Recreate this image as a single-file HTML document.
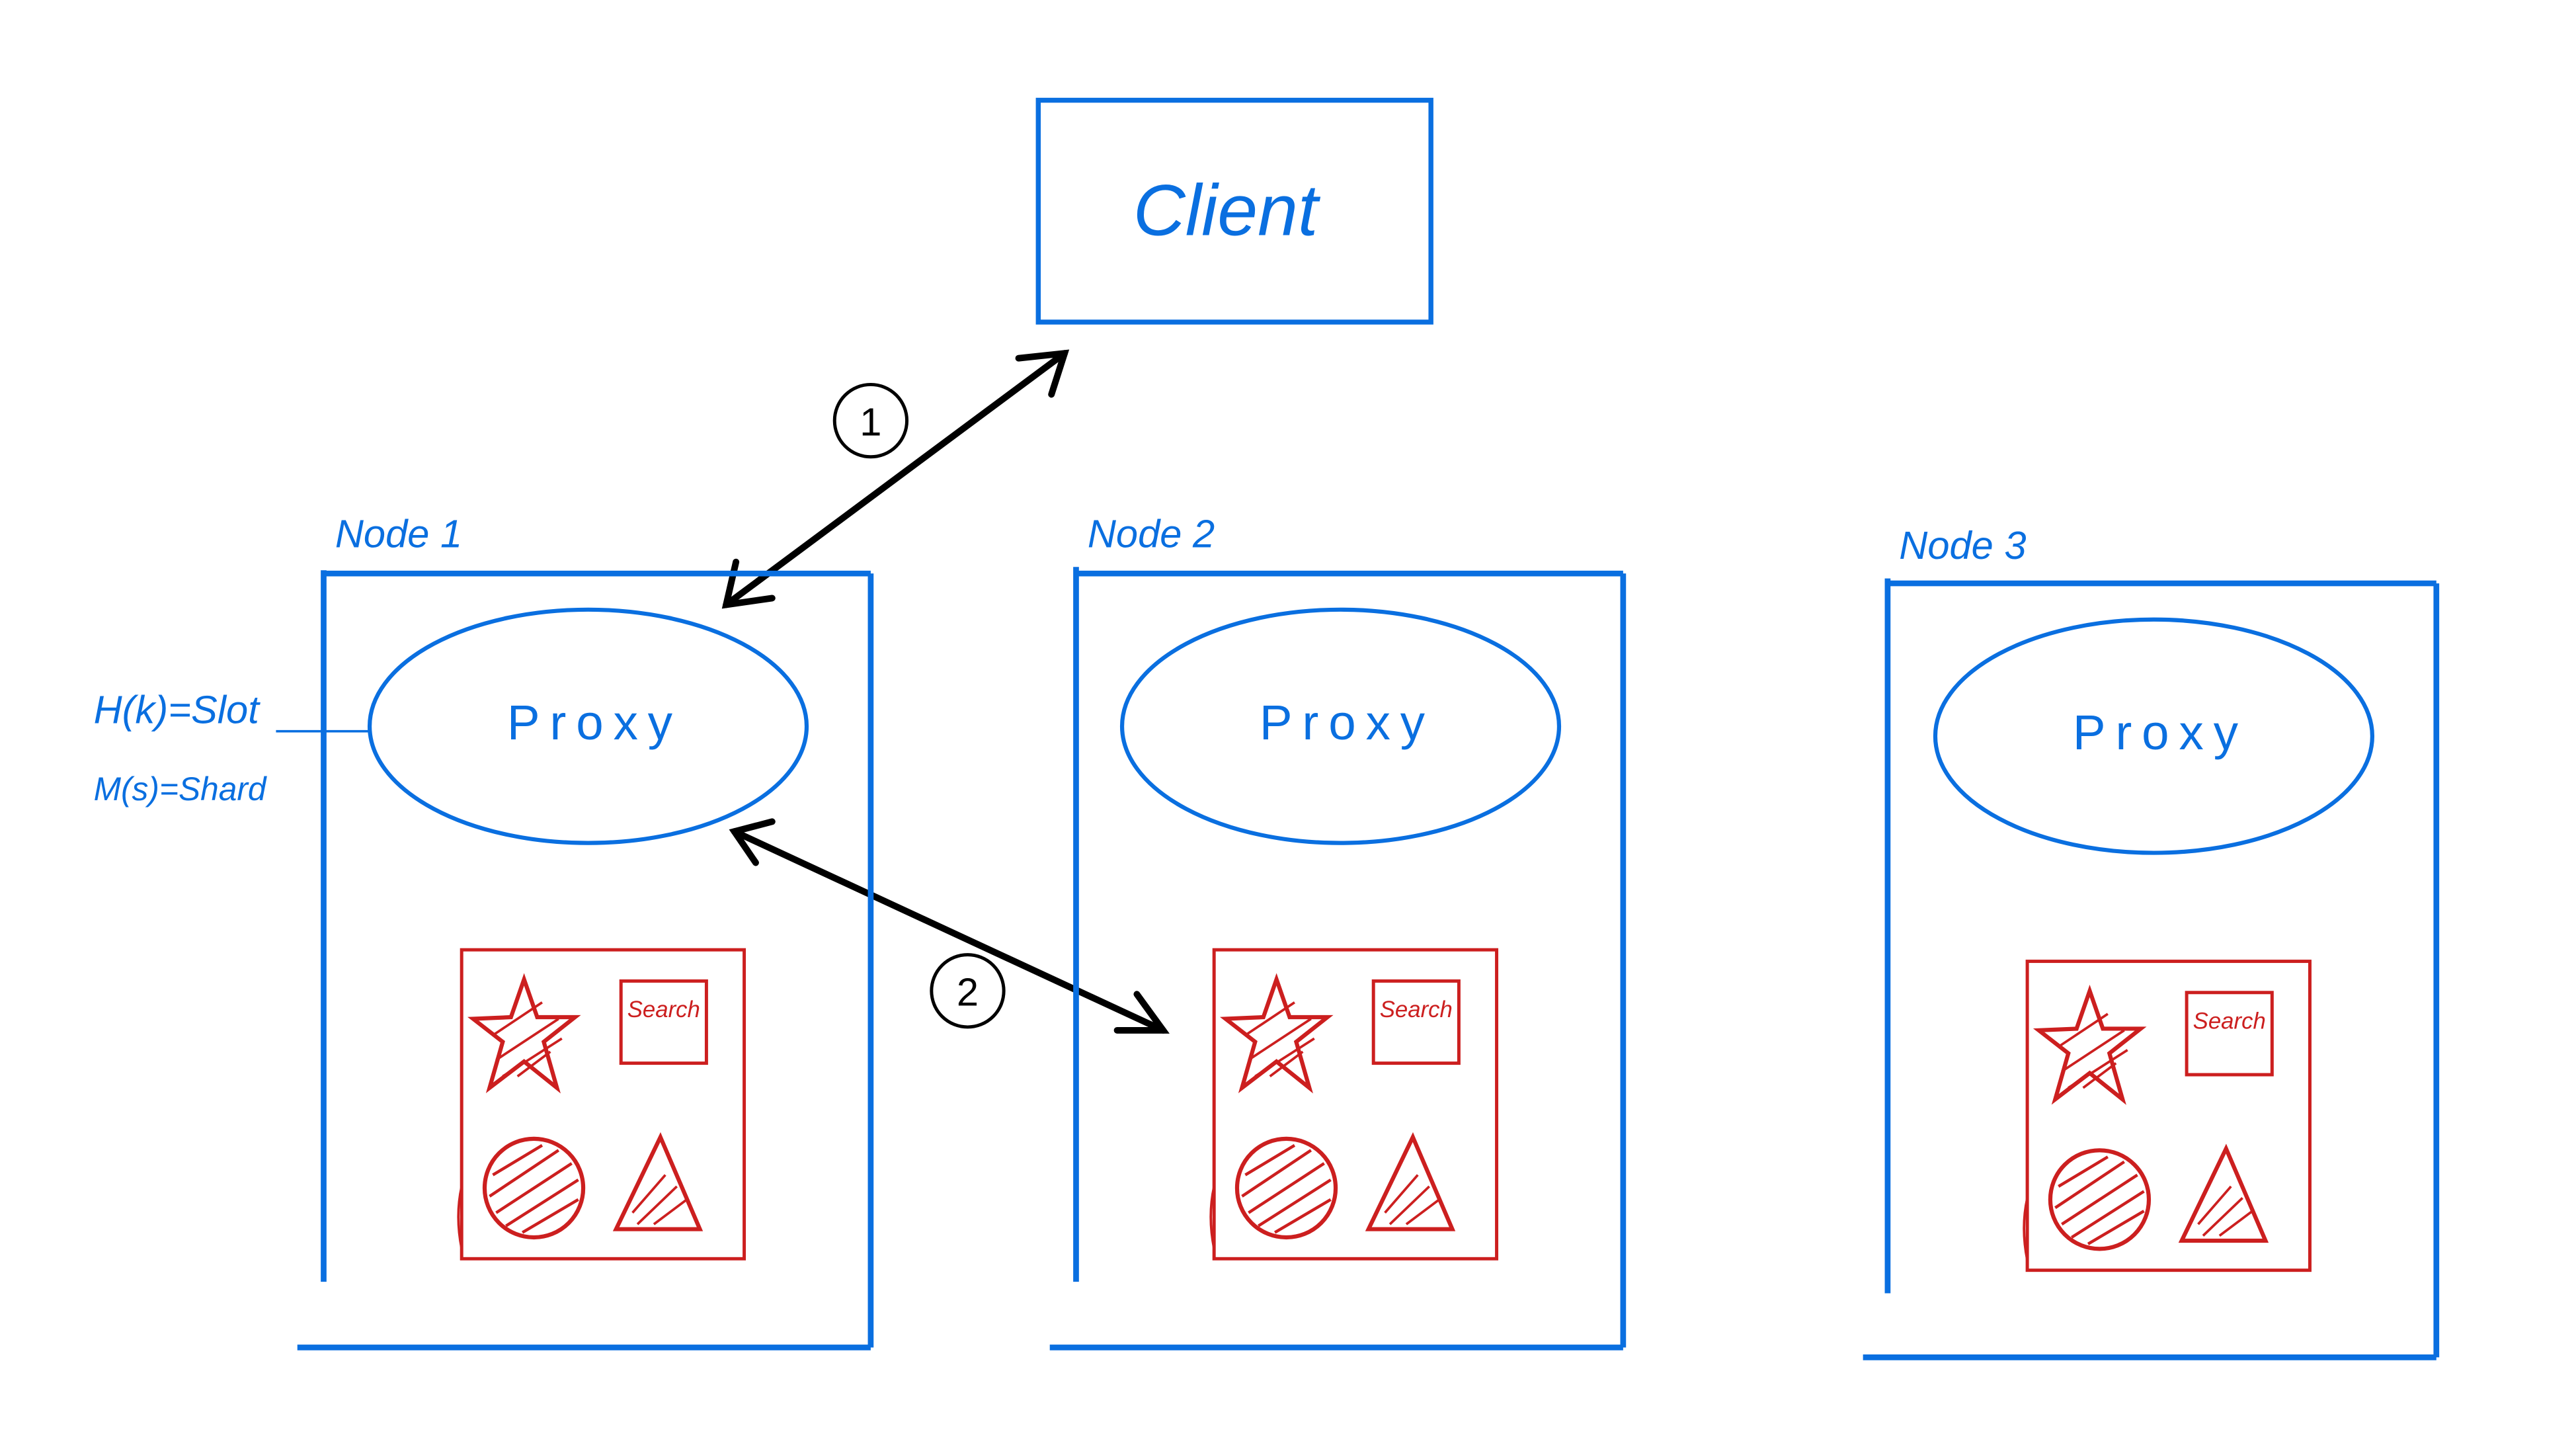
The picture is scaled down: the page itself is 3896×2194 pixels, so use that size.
<!DOCTYPE html>
<html><head><meta charset="utf-8"><style>
html,body{margin:0;padding:0;background:#fff;}
svg{display:block;}
text{font-family:"Liberation Sans",sans-serif;}
</style></head><body>
<svg width="3896" height="2194" viewBox="0 0 1568 883" preserveAspectRatio="none" xmlns="http://www.w3.org/2000/svg">
<defs>
<g id="shapes">
  <rect x="281" y="578" width="172" height="188" fill="none" stroke="#cc1f1f" stroke-width="2"/>
  <path d="M281 722 Q277 740 281 760" fill="none" stroke="#cc1f1f" stroke-width="1.5"/>
  <polygon points="319,596 327,619 350,619 331,634 339,662 319,646 298,662 306,634 288,620 311,619" fill="none" stroke="#cc1f1f" stroke-width="2.5"/>
  <path d="M300 630 L330 610 M302 645 L340 620 M306 655 L342 632 M315 655 L335 640" stroke="#cc1f1f" stroke-width="1.5"/>
  <rect x="378" y="597" width="52" height="50" fill="none" stroke="#cc1f1f" stroke-width="2"/>
  <text x="404" y="619" font-size="14" fill="#cc1f1f" text-anchor="middle" font-style="italic">Search</text>
  <circle cx="325" cy="723" r="30" fill="none" stroke="#cc1f1f" stroke-width="2.5"/>
  <path d="M300 715 L330 697 M298 728 L340 700 M302 738 L348 708 M308 746 L352 718 M318 750 L352 730" stroke="#cc1f1f" stroke-width="1.8"/>
  <polygon points="402,692 426,748 375,748" fill="none" stroke="#cc1f1f" stroke-width="2.5"/>
  <path d="M385 738 L405 715 M388 745 L412 722 M398 745 L418 730" stroke="#cc1f1f" stroke-width="1.5"/>
</g>
</defs>

<g>
  <rect x="632" y="61" width="239" height="135" fill="none" stroke="#0a6fe0" stroke-width="3"/>
  <text x="746" y="143" font-size="44" fill="#0a6fe0" text-anchor="middle" font-style="italic">Client</text>
</g>

<g stroke="#000" stroke-width="4" fill="none" stroke-linecap="round">
  <line x1="648" y1="215" x2="442" y2="368"/>
  <polyline points="620,218 648,215 640,240"/>
  <polyline points="448,342 442,368 470,364"/>
</g>
<g>
  <circle cx="530" cy="256" r="22" fill="none" stroke="#000" stroke-width="2"/>
  <text x="530" y="265" font-size="24" text-anchor="middle">1</text>
</g>

<g stroke="#000" stroke-width="4" fill="none" stroke-linecap="round">
  <line x1="447" y1="506" x2="708" y2="627"/>
  <polyline points="470,500 447,506 460,525"/>
  <polyline points="692,605 708,627 680,627"/>
</g>
<g>
  <circle cx="589" cy="603" r="22" fill="none" stroke="#000" stroke-width="2"/>
  <text x="589" y="612" font-size="24" text-anchor="middle">2</text>
</g>

<g fill="#0a6fe0" font-style="italic">
  <text x="57" y="440" font-size="24">H(k)=Slot</text>
  <text x="57" y="487" font-size="20">M(s)=Shard</text>
  <line x1="168" y1="445" x2="226" y2="445" stroke="#0a6fe0" stroke-width="1.5"/>
</g>

<g>
  <text x="204" y="333" font-size="24" fill="#0a6fe0" font-style="italic">Node 1</text>
  <g stroke="#0a6fe0" stroke-width="3.5" fill="none">
    <line x1="197" y1="347" x2="197" y2="780"/>
    <line x1="197" y1="349" x2="530" y2="349"/>
    <line x1="530" y1="349" x2="530" y2="820"/>
    <line x1="181" y1="820" x2="530" y2="820"/>
  </g>
  <ellipse cx="358" cy="442" rx="133" ry="71" fill="none" stroke="#0a6fe0" stroke-width="2.5"/>
  <text x="362" y="450" font-size="30" fill="#0a6fe0" text-anchor="middle" letter-spacing="6">Proxy</text>
  <use href="#shapes"/>
</g>

<g>
  <text x="662" y="333" font-size="24" fill="#0a6fe0" font-style="italic">Node 2</text>
  <g stroke="#0a6fe0" stroke-width="3.5" fill="none">
    <line x1="655" y1="345" x2="655" y2="780"/>
    <line x1="655" y1="349" x2="988" y2="349"/>
    <line x1="988" y1="349" x2="988" y2="820"/>
    <line x1="639" y1="820" x2="988" y2="820"/>
  </g>
  <ellipse cx="816" cy="442" rx="133" ry="71" fill="none" stroke="#0a6fe0" stroke-width="2.5"/>
  <text x="820" y="450" font-size="30" fill="#0a6fe0" text-anchor="middle" letter-spacing="6">Proxy</text>
  <use href="#shapes" transform="translate(458,0)"/>
</g>

<g>
  <text x="1156" y="340" font-size="24" fill="#0a6fe0" font-style="italic">Node 3</text>
  <g stroke="#0a6fe0" stroke-width="3.5" fill="none">
    <line x1="1149" y1="352" x2="1149" y2="787"/>
    <line x1="1149" y1="355" x2="1483" y2="355"/>
    <line x1="1483" y1="355" x2="1483" y2="826"/>
    <line x1="1134" y1="826" x2="1483" y2="826"/>
  </g>
  <ellipse cx="1311" cy="448" rx="133" ry="71" fill="none" stroke="#0a6fe0" stroke-width="2.5"/>
  <text x="1315" y="456" font-size="30" fill="#0a6fe0" text-anchor="middle" letter-spacing="6">Proxy</text>
  <use href="#shapes" transform="translate(953,7)"/>
</g>
</svg>
</body></html>
